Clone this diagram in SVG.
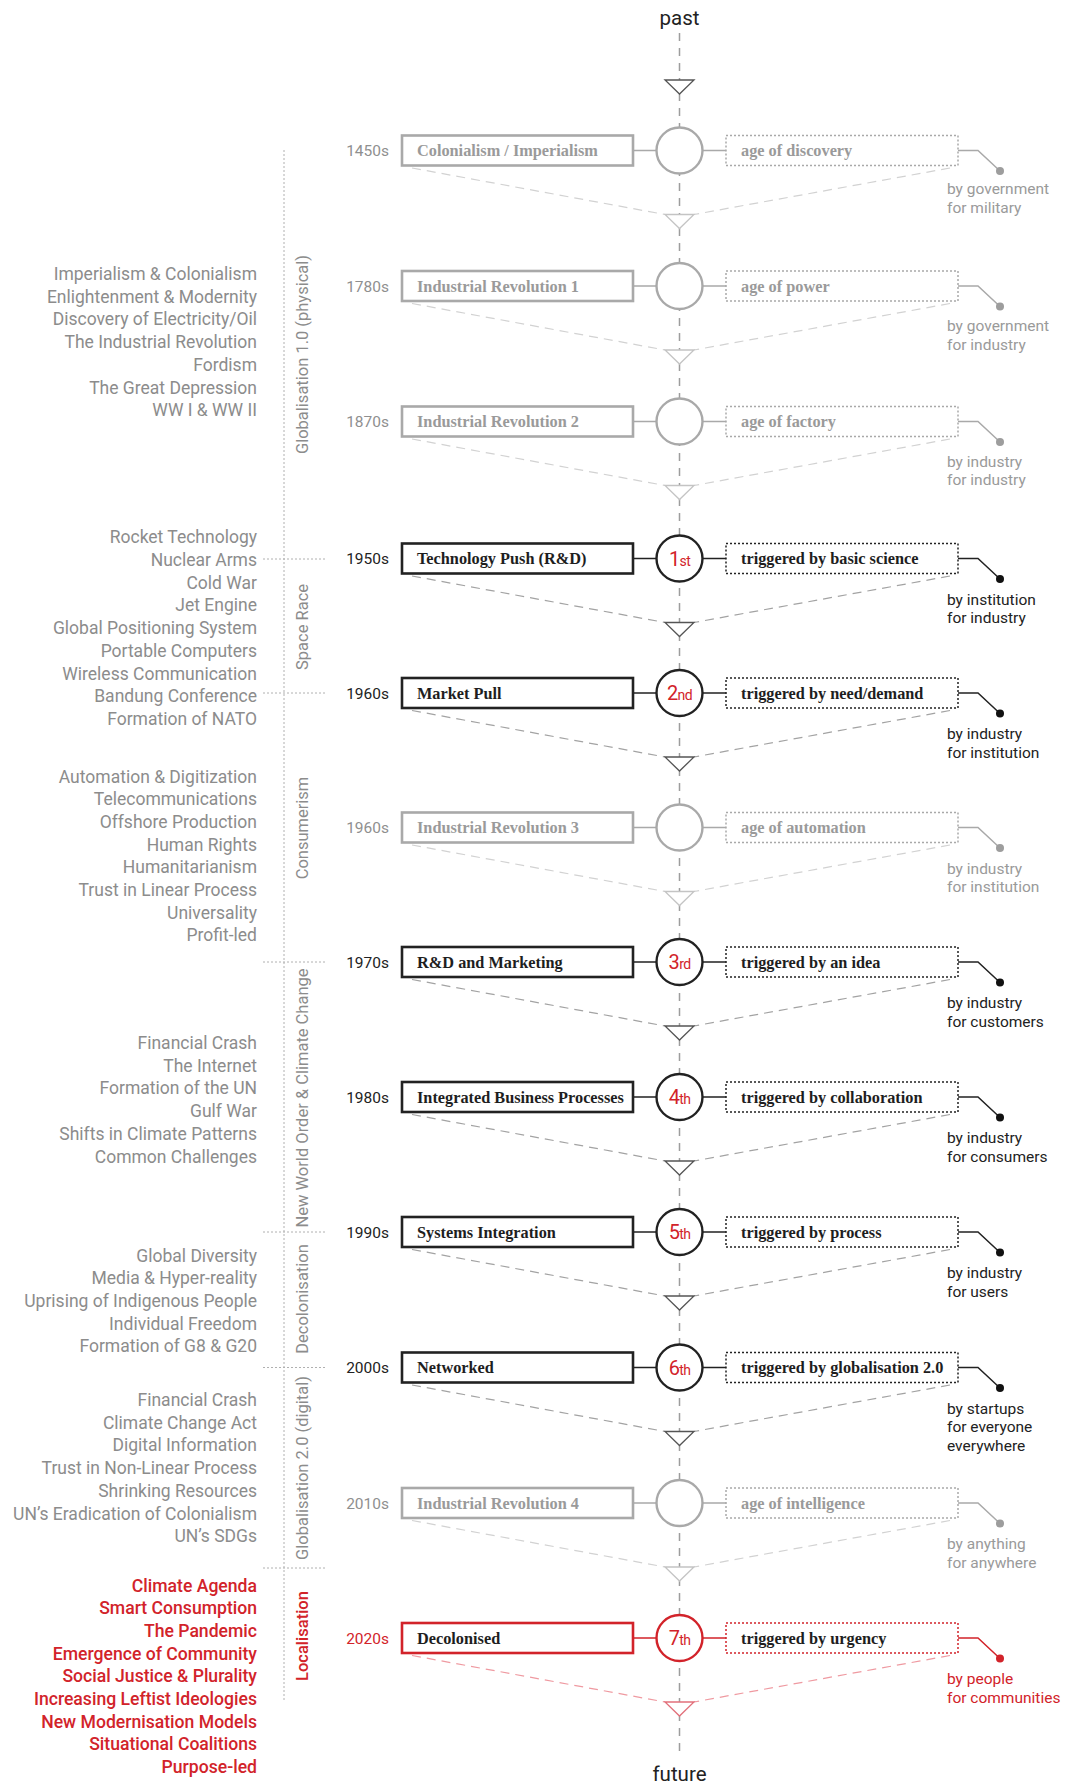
<svg xmlns="http://www.w3.org/2000/svg" width="1074" height="1787" viewBox="0 0 1074 1787">
<style>
.sans{font-family:Roboto,"Liberation Sans",sans-serif}
.serif{font-family:"Liberation Serif",serif;font-weight:700;font-size:16.3px}
.axis{stroke:#9d9d9d;stroke-width:1.5;stroke-dasharray:8 7;fill:none}
.conv{fill:none;stroke-width:1.2;stroke-dasharray:9 6}
.tri{fill:#fff;stroke-width:1.3}
.link{stroke-width:1.5;fill:none}
.box{fill:#fff;stroke-width:2.6}
.ring{fill:#fff;stroke-width:2.4}
.trig{fill:#fff;stroke-width:1.5;stroke-dasharray:2 2}
.year{font-size:15.5px;text-anchor:end}
.who{font-size:15.5px}
.ord{fill:#d2232a;font-size:20px;text-anchor:middle;letter-spacing:-0.6px}
.ord tspan{font-size:14px}
.end{font-size:20.5px;fill:#222;text-anchor:middle}
.list{font-size:17.5px;fill:#8c8c8c;text-anchor:end}
.list.red{fill:#d2232a;font-weight:500;font-size:17.6px}
.period{font-size:16.5px;fill:#8c8c8c;text-anchor:middle}
.period.red{fill:#d2232a;font-weight:500}
.sep{stroke:#b0b0b0;stroke-width:1;stroke-dasharray:2 2;fill:none}
.g .conv{stroke:#d2d2d2}.k .conv{stroke:#a3a3a3}.r .conv{stroke:#ef9aa1}
.g .tri{stroke:#c4c4c4}.k .tri{stroke:#555}.r .tri{stroke:#e2707b}
.g .link,.g .box,.g .ring,.g .trig{stroke:#a9a9a9}
.k .link,.k .box,.k .ring,.k .trig{stroke:#222}
.r .link,.r .box,.r .ring,.r .trig{stroke:#d2232a}
.g .dot{fill:#9d9d9d}.k .dot{fill:#111}.r .dot{fill:#d2232a}
.g .label{fill:#9a9a9a}.k .label,.r .label{fill:#1e1e1e}
.g .year{fill:#8f8f8f}.k .year{fill:#222}.r .year{fill:#d2232a}
.g .who{fill:#9a9a9a}.k .who{fill:#222}.r .who{fill:#d2232a}
</style>
<rect width="1074" height="1787" fill="#fff"/>

<!-- time axis, flow lines and leaders -->
<g id="connectors">
  <path class="axis" d="M679.5 33V1758"/>
  <path class="tri" d="M665 80H694L679.5 94Z" stroke="#555"/>
  <g class="g" transform="translate(0,150.5)">
    <path class="conv" d="M412 17.5L665 64M950 17.5L694 64"/><path class="tri" d="M665 64H694L679.5 78Z"/>
    <path class="link" d="M633 0H656.5M702.5 0H726M958 0H978L1000 20.5"/><circle class="dot" cx="1000" cy="20.5" r="4"/>
  </g>
  <g class="g" transform="translate(0,286)">
    <path class="conv" d="M412 17.5L665 64M950 17.5L694 64"/><path class="tri" d="M665 64H694L679.5 78Z"/>
    <path class="link" d="M633 0H656.5M702.5 0H726M958 0H978L1000 20.5"/><circle class="dot" cx="1000" cy="20.5" r="4"/>
  </g>
  <g class="g" transform="translate(0,421.5)">
    <path class="conv" d="M412 17.5L665 64M950 17.5L694 64"/><path class="tri" d="M665 64H694L679.5 78Z"/>
    <path class="link" d="M633 0H656.5M702.5 0H726M958 0H978L1000 20.5"/><circle class="dot" cx="1000" cy="20.5" r="4"/>
  </g>
  <g class="k" transform="translate(0,558.5)">
    <path class="conv" d="M412 17.5L665 64M950 17.5L694 64"/><path class="tri" d="M665 64H694L679.5 78Z"/>
    <path class="link" d="M633 0H656.5M702.5 0H726M958 0H978L1000 20.5"/><circle class="dot" cx="1000" cy="20.5" r="4"/>
  </g>
  <g class="k" transform="translate(0,693)">
    <path class="conv" d="M412 17.5L665 64M950 17.5L694 64"/><path class="tri" d="M665 64H694L679.5 78Z"/>
    <path class="link" d="M633 0H656.5M702.5 0H726M958 0H978L1000 20.5"/><circle class="dot" cx="1000" cy="20.5" r="4"/>
  </g>
  <g class="g" transform="translate(0,827.5)">
    <path class="conv" d="M412 17.5L665 64M950 17.5L694 64"/><path class="tri" d="M665 64H694L679.5 78Z"/>
    <path class="link" d="M633 0H656.5M702.5 0H726M958 0H978L1000 20.5"/><circle class="dot" cx="1000" cy="20.5" r="4"/>
  </g>
  <g class="k" transform="translate(0,962)">
    <path class="conv" d="M412 17.5L665 64M950 17.5L694 64"/><path class="tri" d="M665 64H694L679.5 78Z"/>
    <path class="link" d="M633 0H656.5M702.5 0H726M958 0H978L1000 20.5"/><circle class="dot" cx="1000" cy="20.5" r="4"/>
  </g>
  <g class="k" transform="translate(0,1097)">
    <path class="conv" d="M412 17.5L665 64M950 17.5L694 64"/><path class="tri" d="M665 64H694L679.5 78Z"/>
    <path class="link" d="M633 0H656.5M702.5 0H726M958 0H978L1000 20.5"/><circle class="dot" cx="1000" cy="20.5" r="4"/>
  </g>
  <g class="k" transform="translate(0,1232)">
    <path class="conv" d="M412 17.5L665 64M950 17.5L694 64"/><path class="tri" d="M665 64H694L679.5 78Z"/>
    <path class="link" d="M633 0H656.5M702.5 0H726M958 0H978L1000 20.5"/><circle class="dot" cx="1000" cy="20.5" r="4"/>
  </g>
  <g class="k" transform="translate(0,1367.5)">
    <path class="conv" d="M412 17.5L665 64M950 17.5L694 64"/><path class="tri" d="M665 64H694L679.5 78Z"/>
    <path class="link" d="M633 0H656.5M702.5 0H726M958 0H978L1000 20.5"/><circle class="dot" cx="1000" cy="20.5" r="4"/>
  </g>
  <g class="g" transform="translate(0,1503)">
    <path class="conv" d="M412 17.5L665 64M950 17.5L694 64"/><path class="tri" d="M665 64H694L679.5 78Z"/>
    <path class="link" d="M633 0H656.5M702.5 0H726M958 0H978L1000 20.5"/><circle class="dot" cx="1000" cy="20.5" r="4"/>
  </g>
  <g class="r" transform="translate(0,1638)">
    <path class="conv" d="M412 17.5L665 64M950 17.5L694 64"/><path class="tri" d="M665 64H694L679.5 78Z"/>
    <path class="link" d="M633 0H656.5M702.5 0H726M958 0H978L1000 20.5"/><circle class="dot" cx="1000" cy="20.5" r="4"/>
  </g>
</g>

<text class="sans end" x="679.5" y="25">past</text>
<text class="sans end" x="679.5" y="1781">future</text>

<!-- milestone rows -->
<g id="row-1450s" class="g" transform="translate(0,150.5)">
  <text class="sans year" x="389" y="5.5">1450s</text>
  <rect class="box" x="402" y="-15" width="231" height="30"/>
  <text class="serif label" x="417" y="5.5">Colonialism / Imperialism</text>
  <circle class="ring" cx="679.5" cy="0" r="23"/>
  <rect class="trig" x="726" y="-15" width="232" height="30"/>
  <text class="serif label" x="741" y="5.5">age of discovery</text>
  <text class="sans who" y="43.5"><tspan x="947">by government</tspan><tspan x="947" dy="18.7">for military</tspan></text>
</g>
<g id="row-1780s" class="g" transform="translate(0,286)">
  <text class="sans year" x="389" y="5.5">1780s</text>
  <rect class="box" x="402" y="-15" width="231" height="30"/>
  <text class="serif label" x="417" y="5.5">Industrial Revolution 1</text>
  <circle class="ring" cx="679.5" cy="0" r="23"/>
  <rect class="trig" x="726" y="-15" width="232" height="30"/>
  <text class="serif label" x="741" y="5.5">age of power</text>
  <text class="sans who" y="45"><tspan x="947">by government</tspan><tspan x="947" dy="18.7">for industry</tspan></text>
</g>
<g id="row-1870s" class="g" transform="translate(0,421.5)">
  <text class="sans year" x="389" y="5.5">1870s</text>
  <rect class="box" x="402" y="-15" width="231" height="30"/>
  <text class="serif label" x="417" y="5.5">Industrial Revolution 2</text>
  <circle class="ring" cx="679.5" cy="0" r="23"/>
  <rect class="trig" x="726" y="-15" width="232" height="30"/>
  <text class="serif label" x="741" y="5.5">age of factory</text>
  <text class="sans who" y="45"><tspan x="947">by industry</tspan><tspan x="947" dy="18.7">for industry</tspan></text>
</g>
<g id="row-1950s" class="k" transform="translate(0,558.5)">
  <text class="sans year" x="389" y="5.5">1950s</text>
  <rect class="box" x="402" y="-15" width="231" height="30"/>
  <text class="serif label" x="417" y="5.5">Technology Push (R&amp;D)</text>
  <circle class="ring" cx="679.5" cy="0" r="23"/>
  <text class="sans ord" x="679.5" y="7">1<tspan>st</tspan></text>
  <rect class="trig" x="726" y="-15" width="232" height="30"/>
  <text class="serif label" x="741" y="5.5">triggered by basic science</text>
  <text class="sans who" y="46"><tspan x="947">by institution</tspan><tspan x="947" dy="18.7">for industry</tspan></text>
</g>
<g id="row-1960s-market" class="k" transform="translate(0,693)">
  <text class="sans year" x="389" y="5.5">1960s</text>
  <rect class="box" x="402" y="-15" width="231" height="30"/>
  <text class="serif label" x="417" y="5.5">Market Pull</text>
  <circle class="ring" cx="679.5" cy="0" r="23"/>
  <text class="sans ord" x="679.5" y="7">2<tspan>nd</tspan></text>
  <rect class="trig" x="726" y="-15" width="232" height="30"/>
  <text class="serif label" x="741" y="5.5">triggered by need/demand</text>
  <text class="sans who" y="46"><tspan x="947">by industry</tspan><tspan x="947" dy="18.7">for institution</tspan></text>
</g>
<g id="row-1960s-ir3" class="g" transform="translate(0,827.5)">
  <text class="sans year" x="389" y="5.5">1960s</text>
  <rect class="box" x="402" y="-15" width="231" height="30"/>
  <text class="serif label" x="417" y="5.5">Industrial Revolution 3</text>
  <circle class="ring" cx="679.5" cy="0" r="23"/>
  <rect class="trig" x="726" y="-15" width="232" height="30"/>
  <text class="serif label" x="741" y="5.5">age of automation</text>
  <text class="sans who" y="46"><tspan x="947">by industry</tspan><tspan x="947" dy="18.7">for institution</tspan></text>
</g>
<g id="row-1970s" class="k" transform="translate(0,962)">
  <text class="sans year" x="389" y="5.5">1970s</text>
  <rect class="box" x="402" y="-15" width="231" height="30"/>
  <text class="serif label" x="417" y="5.5">R&amp;D and Marketing</text>
  <circle class="ring" cx="679.5" cy="0" r="23"/>
  <text class="sans ord" x="679.5" y="7">3<tspan>rd</tspan></text>
  <rect class="trig" x="726" y="-15" width="232" height="30"/>
  <text class="serif label" x="741" y="5.5">triggered by an idea</text>
  <text class="sans who" y="46"><tspan x="947">by industry</tspan><tspan x="947" dy="18.7">for customers</tspan></text>
</g>
<g id="row-1980s" class="k" transform="translate(0,1097)">
  <text class="sans year" x="389" y="5.5">1980s</text>
  <rect class="box" x="402" y="-15" width="231" height="30"/>
  <text class="serif label" x="417" y="5.5">Integrated Business Processes</text>
  <circle class="ring" cx="679.5" cy="0" r="23"/>
  <text class="sans ord" x="679.5" y="7">4<tspan>th</tspan></text>
  <rect class="trig" x="726" y="-15" width="232" height="30"/>
  <text class="serif label" x="741" y="5.5">triggered by collaboration</text>
  <text class="sans who" y="46"><tspan x="947">by industry</tspan><tspan x="947" dy="18.7">for consumers</tspan></text>
</g>
<g id="row-1990s" class="k" transform="translate(0,1232)">
  <text class="sans year" x="389" y="5.5">1990s</text>
  <rect class="box" x="402" y="-15" width="231" height="30"/>
  <text class="serif label" x="417" y="5.5">Systems Integration</text>
  <circle class="ring" cx="679.5" cy="0" r="23"/>
  <text class="sans ord" x="679.5" y="7">5<tspan>th</tspan></text>
  <rect class="trig" x="726" y="-15" width="232" height="30"/>
  <text class="serif label" x="741" y="5.5">triggered by process</text>
  <text class="sans who" y="46"><tspan x="947">by industry</tspan><tspan x="947" dy="18.7">for users</tspan></text>
</g>
<g id="row-2000s" class="k" transform="translate(0,1367.5)">
  <text class="sans year" x="389" y="5.5">2000s</text>
  <rect class="box" x="402" y="-15" width="231" height="30"/>
  <text class="serif label" x="417" y="5.5">Networked</text>
  <circle class="ring" cx="679.5" cy="0" r="23"/>
  <text class="sans ord" x="679.5" y="7">6<tspan>th</tspan></text>
  <rect class="trig" x="726" y="-15" width="232" height="30"/>
  <text class="serif label" x="741" y="5.5">triggered by globalisation 2.0</text>
  <text class="sans who" y="46"><tspan x="947">by startups</tspan><tspan x="947" dy="18.7">for everyone</tspan><tspan x="947" dy="18.7">everywhere</tspan></text>
</g>
<g id="row-2010s" class="g" transform="translate(0,1503)">
  <text class="sans year" x="389" y="5.5">2010s</text>
  <rect class="box" x="402" y="-15" width="231" height="30"/>
  <text class="serif label" x="417" y="5.5">Industrial Revolution 4</text>
  <circle class="ring" cx="679.5" cy="0" r="23"/>
  <rect class="trig" x="726" y="-15" width="232" height="30"/>
  <text class="serif label" x="741" y="5.5">age of intelligence</text>
  <text class="sans who" y="46"><tspan x="947">by anything</tspan><tspan x="947" dy="18.7">for anywhere</tspan></text>
</g>
<g id="row-2020s" class="r" transform="translate(0,1638)">
  <text class="sans year" x="389" y="5.5">2020s</text>
  <rect class="box" x="402" y="-15" width="231" height="30"/>
  <text class="serif label" x="417" y="5.5">Decolonised</text>
  <circle class="ring" cx="679.5" cy="0" r="23"/>
  <text class="sans ord" x="679.5" y="7">7<tspan>th</tspan></text>
  <rect class="trig" x="726" y="-15" width="232" height="30"/>
  <text class="serif label" x="741" y="5.5">triggered by urgency</text>
  <text class="sans who" y="46"><tspan x="947">by people</tspan><tspan x="947" dy="18.7">for communities</tspan></text>
</g>

<!-- period brackets -->
<g id="period-rule">
  <path class="sep" d="M284 150V1700"/>
  <path class="sep" d="M263 559H325M263 693H325M263 962H325M263 1232H325M263 1367.5H325M263 1568H325"/>
</g>
<g id="periods" class="sans">
  <text class="period" transform="translate(308,354.5) rotate(-90)">Globalisation 1.0 (physical)</text>
  <text class="period" transform="translate(308,627) rotate(-90)">Space Race</text>
  <text class="period" transform="translate(308,828) rotate(-90)">Consumerism</text>
  <text class="period" transform="translate(308,1098) rotate(-90)">New World Order &amp; Climate Change</text>
  <text class="period" transform="translate(308,1299) rotate(-90)">Decolonisation</text>
  <text class="period" transform="translate(308,1468) rotate(-90)">Globalisation 2.0 (digital)</text>
  <text class="period red" transform="translate(308,1636) rotate(-90)">Localisation</text>
</g>

<!-- events per period -->
<g id="events" class="sans">
  <text class="list" y="280"><tspan x="257">Imperialism &amp; Colonialism</tspan><tspan x="257" dy="22.7">Enlightenment &amp; Modernity</tspan><tspan x="257" dy="22.7">Discovery of Electricity/Oil</tspan><tspan x="257" dy="22.7">The Industrial Revolution</tspan><tspan x="257" dy="22.7">Fordism</tspan><tspan x="257" dy="22.7">The Great Depression</tspan><tspan x="257" dy="22.7">WW I &amp; WW II</tspan></text>
  <text class="list" y="543.3"><tspan x="257">Rocket Technology</tspan><tspan x="257" dy="22.7">Nuclear Arms</tspan><tspan x="257" dy="22.7">Cold War</tspan><tspan x="257" dy="22.7">Jet Engine</tspan><tspan x="257" dy="22.7">Global Positioning System</tspan><tspan x="257" dy="22.7">Portable Computers</tspan><tspan x="257" dy="22.7">Wireless Communication</tspan><tspan x="257" dy="22.7">Bandung Conference</tspan><tspan x="257" dy="22.7">Formation of NATO</tspan></text>
  <text class="list" y="782.5"><tspan x="257">Automation &amp; Digitization</tspan><tspan x="257" dy="22.7">Telecommunications</tspan><tspan x="257" dy="22.7">Offshore Production</tspan><tspan x="257" dy="22.7">Human Rights</tspan><tspan x="257" dy="22.7">Humanitarianism</tspan><tspan x="257" dy="22.7">Trust in Linear Process</tspan><tspan x="257" dy="22.7">Universality</tspan><tspan x="257" dy="22.7">Profit-led</tspan></text>
  <text class="list" y="1049"><tspan x="257">Financial Crash</tspan><tspan x="257" dy="22.7">The Internet</tspan><tspan x="257" dy="22.7">Formation of the UN</tspan><tspan x="257" dy="22.7">Gulf War</tspan><tspan x="257" dy="22.7">Shifts in Climate Patterns</tspan><tspan x="257" dy="22.7">Common Challenges</tspan></text>
  <text class="list" y="1261.5"><tspan x="257">Global Diversity</tspan><tspan x="257" dy="22.7">Media &amp; Hyper-reality</tspan><tspan x="257" dy="22.7">Uprising of Indigenous People</tspan><tspan x="257" dy="22.7">Individual Freedom</tspan><tspan x="257" dy="22.7">Formation of G8 &amp; G20</tspan></text>
  <text class="list" y="1406"><tspan x="257">Financial Crash</tspan><tspan x="257" dy="22.7">Climate Change Act</tspan><tspan x="257" dy="22.7">Digital Information</tspan><tspan x="257" dy="22.7">Trust in Non-Linear Process</tspan><tspan x="257" dy="22.7">Shrinking Resources</tspan><tspan x="257" dy="22.7">UN’s Eradication of Colonialism</tspan><tspan x="257" dy="22.7">UN’s SDGs</tspan></text>
  <text class="list red" y="1591.5"><tspan x="257">Climate Agenda</tspan><tspan x="257" dy="22.7">Smart Consumption</tspan><tspan x="257" dy="22.7">The Pandemic</tspan><tspan x="257" dy="22.7">Emergence of Community</tspan><tspan x="257" dy="22.7">Social Justice &amp; Plurality</tspan><tspan x="257" dy="22.7">Increasing Leftist Ideologies</tspan><tspan x="257" dy="22.7">New Modernisation Models</tspan><tspan x="257" dy="22.7">Situational Coalitions</tspan><tspan x="257" dy="22.7">Purpose-led</tspan></text>
</g>
</svg>
